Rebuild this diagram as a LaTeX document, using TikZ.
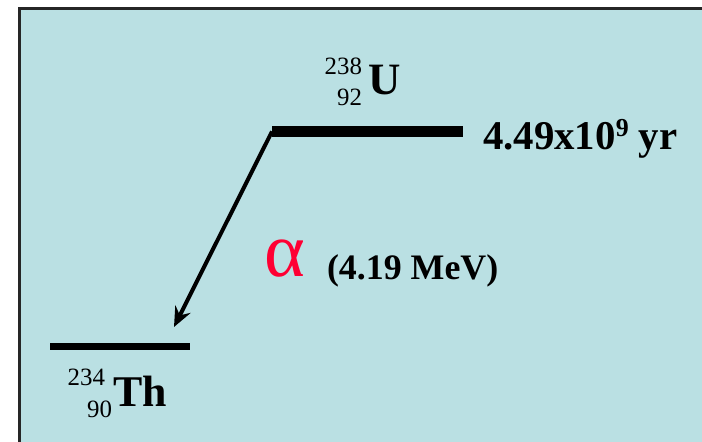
\documentclass[tikz,border=0pt]{standalone}
\usepackage{fontspec}
\setmainfont{Liberation Serif}
\usetikzlibrary{arrows.meta}
\definecolor{panelblue}{HTML}{BAE0E3}
\definecolor{alphared}{HTML}{FF0033}
\pagecolor{panelblue}
\tikzset{
  lvl/.style={line width=#1,line cap=butt},
  lbl/.style={inner sep=0pt,outer sep=0pt},
}
\newcommand{\fsz}[1]{\fontsize{#1}{#1}\selectfont}
\begin{document}
\begin{tikzpicture}[x=1bp,y=-1bp]
 \useasboundingbox (0,0) rectangle (702,442);
 \fill[white] (-5,-5) rectangle (712,452);
 % panel, its right and bottom edges lie off the page
 \fill[panelblue] (19.5,8.5) rectangle (712,452);
 \draw[line width=2.5bp,draw=black!85] (19.5,452)--(19.5,8.5)--(712,8.5);
 % energy levels
 \coordinate (uL) at (272,131.5);
 \coordinate (uR) at (463,131.5);
 \coordinate (thL) at (50,346.5);
 \coordinate (thR) at (190,346.5);
 \coordinate (tip) at (174,327);
 \draw[lvl=11bp] (uL)--(uR);
 \draw[lvl=7bp] (thL)--(thR);
 \draw[line width=4bp,-{Stealth[length=20bp,width=17bp,inset=7bp]}] (uL)--(tip);
 % labels
 \node[lbl,anchor=base west] (uSym) at (368,95) {\fsz{45}\bfseries U};
 \node[lbl,anchor=base east] (uA) at (362,75) {\fsz{25}238};
 \node[lbl,anchor=base east] (uZ) at (362,106) {\fsz{25}92};
 \node[lbl,anchor=base west] (thSym) at (113,406) {\fsz{44}\bfseries Th};
 \node[lbl,anchor=base east] (thA) at (105,385) {\fsz{25}234};
 \node[lbl,anchor=base east] (thZ) at (112,417) {\fsz{25}90};
 \node[lbl,anchor=base west] (half) at (483,150)
   {\fsz{41}\bfseries 4.49x10\raisebox{13bp}{\fsz{26}9} yr};
 \node[lbl,anchor=base west,text=alphared] (alf) at (264,277) {\fsz{78}α};
 \node[lbl,anchor=base west] (qval) at (327,280) {\fsz{36}\bfseries (4.19 MeV)};
\end{tikzpicture}
\end{document}
